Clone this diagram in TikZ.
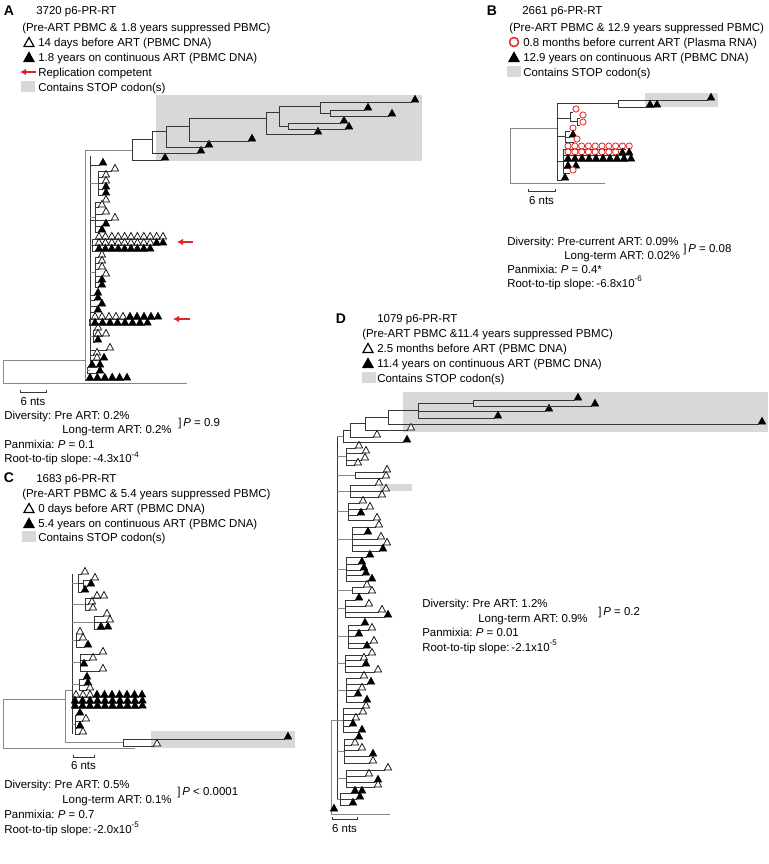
\documentclass[tikz,border=0pt]{standalone}
\usepackage{fontspec}
\setmainfont{Liberation Sans}
\usetikzlibrary{arrows.meta}
\frenchspacing
\definecolor{stopgray}{RGB}{216,216,216}
\definecolor{brdark}{RGB}{55,55,55}
\definecolor{brlight}{RGB}{135,135,135}
\definecolor{compred}{RGB}{226,36,36}
% one sequence: x, y, parent x, fill
\newcommand{\seqtip}[4]{%
  \draw[branch] (#3,#2+3) -- (#1-3,#2+3);
  \draw[tri,fill=#4] (#1-3.6,#2+3) -- (#1,#2-3.6) -- (#1+3.6,#2+3) -- cycle;}
\newcommand{\seqcirc}[3]{%
  \draw[branch] (#3,#2+3) -- (#1-3,#2+3);
  \draw[compred,line width=0.6pt,fill=white] (#1,#2) circle[radius=3.1];}
\begin{document}
\begin{tikzpicture}[x=0.75pt,y=-0.75pt,
  branch/.style={draw=brdark,line width=0.6pt},
  branchl/.style={draw=brlight,line width=0.6pt},
  tri/.style={draw=black,line width=0.5pt},
  legtri/.style={draw=black,line width=0.9pt},
  txt/.style={anchor=base west,inner sep=0pt,font=\fontsize{8.6}{10}\selectfont},
  lbl/.style={anchor=base,inner sep=0pt,font=\fontsize{10.5}{12}\selectfont\bfseries},
  redarrow/.style={draw=compred,line width=1.4pt,-{Latex[length=4.5pt,width=5pt]}}]
\useasboundingbox[fill=white] (0,0) rectangle (768,864);

%%% A
\node[lbl] (labA) at (9,15) {A};
\node[txt] (titleA) at (36,14) {3720 p6-PR-RT};
\node[txt] (subA) at (22,31) {(Pre-ART PBMC \& 1.8 years suppressed PBMC)};
\draw[legtri,fill=white] (24,46.5) -- (29,37.5) -- (34,46.5) -- cycle;
\node[txt] (legA1) at (38,46) {14 days before ART (PBMC DNA)};
\draw[legtri,fill=black] (24,61.5) -- (29,52.5) -- (34,61.5) -- cycle;
\node[txt] (legA2) at (38,61) {1.8 years on continuous ART (PBMC DNA)};
\draw[redarrow] (36,72) -- (20,72);
\node[txt] (legA3) at (38,76) {Replication competent};
\fill[stopgray] (21,81) rectangle (35,92);
\node[txt] (legA4) at (38,91) {Contains STOP codon(s)};

\fill[stopgray] (156,95) rectangle (422,161);
\draw[branchl] (85,360) -- (3,360) -- (3,383) -- (187,383);
\draw[branchl] (85,150) -- (85,380);
\draw[branch] (90,156) -- (90,362);
% clade with stop codons
\draw[branchl] (85,150) -- (132,150);
\draw[branch] (132,160) -- (132,139) -- (152,139);
\draw[branch] (152,131) -- (152,153);
\draw[branch] (152,131) -- (166,131) (166,126) -- (166,147);
\draw[branch] (166,126) -- (189,126) (189,118) -- (189,141);
\draw[branch] (189,118) -- (266,118) (266,112) -- (266,134);
\draw[branch] (266,112) -- (279,112) (279,106) -- (279,126) -- (288,126) (288,123) -- (288,129);
\draw[branch] (279,106) -- (320,106) (320,102) -- (320,113) -- (330,113) (330,110) -- (330,116);
\foreach \x/\y/\p in {165/157/132, 201/150/152, 209/144/166, 252/138/189, 318/131/266,
  344/120/288, 349/126/288, 368/107/330, 392/113/330, 415/99/320}
  {\seqtip{\x}{\y}{\p}{black}}
% small clades off the backbone
\foreach \px/\ya/\yb in {98/171/195, 95/202/232, 92/239/251, 95/257/287, 89/319/325, 93/330/342, 87/367/373}
  {\draw[branch] (\px,\ya) -- (\px,\yb); \draw[branchl] (90,{(\ya+\yb)/2}) -- (\px,{(\ya+\yb)/2});}
\foreach \x/\y/\p/\c in {103/162/90/black, 115/168/98/white, 106/174/98/white, 106/180/98/white,
  106/186/98/black, 106/192/98/black, 106/199/95/white, 102/204/95/white, 106/211/95/white,
  115/217/90/white, 106/223/95/black, 102/229/95/black, 102/254/95/white, 102/260/95/white,
  102/266/95/white, 106/273/95/white, 102/279/95/black, 102/284/95/black, 98/292/90/black,
  98/297/90/black, 102/303/90/black, 98/309/90/black, 98/327/93/white, 98/333/93/white,
  106/333/93/white, 98/339/93/black, 110/347/90/white, 97/352/90/white, 97/357/90/white,
  104/357/90/black, 92/364/87/black, 100/364/87/black, 100/370/87/black}
  {\seqtip{\x}{\y}{\p}{\c}}
\foreach \i in {0,...,10} {\seqtip{99+6.4*\i}{236}{92}{white}}
\foreach \i in {0,...,8} {\seqtip{99+6.4*\i}{242}{92}{white}}
\foreach \x in {156.6,163} {\seqtip{\x}{242}{92}{black}}
\foreach \i in {0,...,8} {\seqtip{99+6.4*\i}{248}{92}{black}}
\foreach \x in {95,102,109,116,123} {\seqtip{\x}{316}{89}{white}}
\foreach \x in {130,137,144,151,158} {\seqtip{\x}{316}{89}{black}}
\foreach \i in {0,...,7} {\seqtip{95+7.5*\i}{322}{89}{black}}
\foreach \i in {0,...,5} {\seqtip{90+7.4*\i}{377}{85}{black}}
\draw[redarrow] (193,242) -- (177,242);
\draw[redarrow] (190,319) -- (173,319);

\draw[branch] (20,390) -- (20,392) -- (46,392) -- (46,390);
\node[txt,anchor=base] (ntsA) at (33,405) {6 nts};
\node[txt] (divA) at (4,419) {Diversity: Pre ART: 0.2\%};
\node[txt] (ltA) at (62,433.5) {Long-term ART: 0.2\%};
\node[txt] (pA) at (178,426.5) {]\,\textit{P} = 0.9};
\node[txt] (panA) at (4,448) {Panmixia: \textit{P} = 0.1};
\node[txt] (rttA) at (4,462.5) {Root-to-tip slope:\,-4.3x10\textsuperscript{-4}};

%%% B
\node[lbl] (labB) at (492,15) {B};
\node[txt] (titleB) at (522,14) {2661 p6-PR-RT};
\node[txt] (subB) at (509,31) {(Pre-ART PBMC \& 12.9 years suppressed PBMC)};
\draw[compred,line width=1.1pt] (514,42) circle[radius=4.5];
\node[txt] (legB1) at (523,46) {0.8 months before current ART (Plasma RNA)};
\draw[legtri,fill=black] (509,61.5) -- (514,52.5) -- (519,61.5) -- cycle;
\node[txt] (legB2) at (523,61) {12.9 years on continuous ART (PBMC DNA)};
\fill[stopgray] (507,66) rectangle (521,77);
\node[txt] (legB3) at (523,76) {Contains STOP codon(s)};

\fill[stopgray] (645,93) rectangle (718,107);
\draw[branchl] (557,128) -- (510,128) -- (510,183) -- (605,183);
\draw[branch] (557,103) -- (557,180);
\draw[branch] (557,103) -- (618,103) (618,100) -- (618,107);
\seqtip{711}{97}{618}{black}
\seqtip{650}{104}{618}{black}
\seqtip{657}{104}{618}{black}
\draw[branch] (557,118) -- (570,118) (570,112) -- (570,121.5) -- (577,121.5) (577,118) -- (577,125);
\draw[branch] (557,136) -- (565,136) (565,131) -- (565,142);
\draw[branch] (557,161) -- (563,161) (563,149) -- (563,173);
\seqcirc{576}{109}{570}
\seqcirc{583}{115}{577}
\seqcirc{583}{122}{577}
\seqcirc{573}{128}{565}
\seqtip{573}{134}{565}{black}
\seqcirc{577}{139}{565}
\foreach \i in {0,...,9} {\seqcirc{568+6.8*\i}{146}{563}}
\foreach \i in {0,...,7} {\seqcirc{568+6.8*\i}{152}{563}}
\foreach \x in {622.4,629.2} {\seqtip{\x}{152}{563}{black}}
\foreach \i in {0,...,9} {\seqtip{568+7*\i}{158}{563}{black}}
\seqtip{568}{165}{563}{black}
\seqtip{576}{165}{563}{black}
\seqcirc{573}{170}{563}
\seqtip{565}{177}{557}{black}

\draw[branch] (528,189) -- (528,191) -- (555,191) -- (555,189);
\node[txt,anchor=base] (ntsB) at (541.5,204) {6 nts};
\node[txt] (divB) at (507,245) {Diversity: Pre-current ART: 0.09\%};
\node[txt] (ltB) at (564,259) {Long-term ART: 0.02\%};
\node[txt] (pB) at (683,252) {]\,\textit{P} = 0.08};
\node[txt] (panB) at (507,273) {Panmixia: \textit{P} = 0.4*};
\node[txt] (rttB) at (507,287) {Root-to-tip slope:\,-6.8x10\textsuperscript{-6}};

%%% C
\node[lbl] (labC) at (9,482) {C};
\node[txt] (titleC) at (36,482) {1683 p6-PR-RT};
\node[txt] (subC) at (22,497) {(Pre-ART PBMC \& 5.4 years suppressed PBMC)};
\draw[legtri,fill=white] (24,512.5) -- (29,503.5) -- (34,512.5) -- cycle;
\node[txt] (legC1) at (38,512) {0 days before ART (PBMC DNA)};
\draw[legtri,fill=black] (24,527.5) -- (29,518.5) -- (34,527.5) -- cycle;
\node[txt] (legC2) at (38,527) {5.4 years on continuous ART (PBMC DNA)};
\fill[stopgray] (22,531) rectangle (36,542);
\node[txt] (legC3) at (38,541) {Contains STOP codon(s)};

\fill[stopgray] (151,731) rectangle (295,748);
\draw[branchl] (65,699) -- (3,699) -- (3,748) -- (135,748);
\draw[branchl] (65,690) -- (65,742) -- (123,742);
\draw[branch] (123,739) -- (123,746);
\seqtip{288}{736}{123}{black}
\seqtip{157}{743}{123}{white}
\draw[branchl] (65,690) -- (72,690);
\draw[branch] (72,574) -- (72,734);
\foreach \px/\ya/\yb in {78/574/592, 85/598/610, 94/616/629, 76/634/647, 80/654/671, 79/679/690, 74/697/708, 75/715/734}
  {\draw[branch] (\px,\ya) -- (\px,\yb); \draw[branchl] (72,{(\ya+\yb)/2}) -- (\px,{(\ya+\yb)/2});}
\draw[branch] (78,583) -- (83,583) (83,580) -- (83,586);
\foreach \x/\y/\p/\c in {85/571/78/white, 95/577/83/white, 91/583/83/black, 85/589/78/black,
  97/595/85/white, 104/595/85/white, 92/601/85/white, 93/607/85/white, 107/613/94/white,
  110/619/94/white, 101/626/94/black, 108/626/94/black, 80/631/76/white, 83/637/76/white,
  88/644/76/black, 103/651/80/white, 93/657/80/white, 84/663/80/black, 103/668/80/white,
  87/676/79/black, 88/682/79/black, 90/687/79/white, 80/712/75/black, 86/718/75/white,
  80/725/75/black, 83/731/75/white}
  {\seqtip{\x}{\y}{\p}{\c}}
\foreach \x in {76,83,90} {\seqtip{\x}{694}{74}{white}}
\foreach \i in {0,...,6} {\seqtip{97+7.5*\i}{694}{74}{black}}
\foreach \i in {0,...,9} {\seqtip{75+7.5*\i}{700}{74}{black}}
\foreach \i in {0,...,9} {\seqtip{75+7.5*\i}{705}{74}{black}}

\draw[branch] (73,755) -- (73,757) -- (94,757) -- (94,755);
\node[txt,anchor=base] (ntsC) at (83.5,769) {6 nts};
\node[txt] (divC) at (4,788) {Diversity: Pre ART: 0.5\%};
\node[txt] (ltC) at (62,803) {Long-term ART: 0.1\%};
\node[txt] (pC) at (177,795.5) {]\,\textit{P} < 0.0001};
\node[txt] (panC) at (4,818) {Panmixia: \textit{P} = 0.7};
\node[txt] (rttC) at (4,833) {Root-to-tip slope:\,-2.0x10\textsuperscript{-5}};

%%% D
\node[lbl] (labD) at (341,323) {D};
\node[txt] (titleD) at (377,322) {1079 p6-PR-RT};
\node[txt] (subD) at (362,337) {(Pre-ART PBMC \&11.4 years suppressed PBMC)};
\draw[legtri,fill=white] (363,352.5) -- (368,343.5) -- (373,352.5) -- cycle;
\node[txt] (legD1) at (377,352) {2.5 months before ART (PBMC DNA)};
\draw[legtri,fill=black] (363,367.5) -- (368,358.5) -- (373,367.5) -- cycle;
\node[txt] (legD2) at (377,367) {11.4 years on continuous ART (PBMC DNA)};
\fill[stopgray] (362,372) rectangle (376,383);
\node[txt] (legD3) at (377,382) {Contains STOP codon(s)};

\fill[stopgray] (403,392) rectangle (768,432);
\fill[stopgray] (380,484) rectangle (412,491);
\draw[branchl] (337,720) -- (331,720) -- (331,814) -- (390,814);
\draw[branch] (337,436) -- (337,800);
% clade with stop codons
\draw[branchl] (337,436) -- (343,436);
\draw[branch] (343,430) -- (343,442);
\draw[branch] (343,430) -- (350,430) (350,423) -- (350,437);
\draw[branch] (350,423) -- (365,423) (365,417) -- (365,430);
\draw[branch] (365,417) -- (388,417) (388,410) -- (388,424);
\draw[branch] (388,410) -- (418,410) (418,403) -- (418,418);
\draw[branch] (418,403) -- (473,403) (473,400) -- (473,406);
\foreach \x/\y/\p/\c in {407/439/343/black, 377/434/350/white, 411/427/365/white, 762/421/388/black,
  549/408/418/black, 498/415/418/black, 578/397/473/black, 595/403/473/black}
  {\seqtip{\x}{\y}{\p}{\c}}
\foreach \px/\ya/\yb in {346/448/465, 355/472/478, 350/485/497, 348/503/520, 352/527/551,
  346/557/581, 352/587/593, 345/600/617, 348/625/648, 345/655/672, 346/678/702,
  343/708/732, 344/739/763, 346/770/787, 340/793/805}
  {\draw[branch] (\px,\ya) -- (\px,\yb); \draw[branchl] (337,{(\ya+\yb)/2}) -- (\px,{(\ya+\yb)/2});}
\foreach \x/\y/\p/\c in {359/445/346/white, 366/450/346/white, 365/457/346/white, 358/462/346/white,
  387/469/355/white, 386/475/355/white, 379/482/350/white, 386/488/350/white, 382/494/350/white,
  363/500/348/white, 370/506/348/white, 361/512/348/black, 377/517/348/white,
  379/524/352/white, 368/531/352/black, 381/536/352/white, 387/542/352/white, 383/548/352/black,
  370/554/346/black, 362/561/346/black, 364/567/346/black, 366/572/346/black, 372/578/346/black,
  367/584/352/white, 372/590/352/white,
  359/597/345/black, 369/603/345/white, 382/609/345/white, 388/614/345/black,
  365/622/348/black, 372/627/348/white, 359/633/348/black, 374/640/348/white, 367/645/348/black,
  372/652/345/white, 364/657/345/white, 366/663/345/black, 378/669/345/white,
  364/675/346/white, 371/681/346/black, 362/687/346/white, 358/693/346/black, 367/699/346/black,
  366/705/343/white, 363/711/343/white, 356/717/343/white, 353/723/343/black, 362/729/343/black,
  359/736/344/black, 355/742/344/white, 362/747/344/white, 373/753/344/black, 373/760/344/white,
  388/767/346/white, 369/773/346/white, 378/779/346/black, 378/784/346/white,
  355/790/340/black, 362/790/340/black, 360/796/340/black, 353/802/340/black, 334/808/331/black}
  {\seqtip{\x}{\y}{\p}{\c}}

\draw[branch] (332,817) -- (332,819) -- (357,819) -- (357,817);
\node[txt,anchor=base] (ntsD) at (344.5,832) {6 nts};
\node[txt] (divD) at (422,607) {Diversity: Pre ART: 1.2\%};
\node[txt] (ltD) at (478,622) {Long-term ART: 0.9\%};
\node[txt] (pD) at (598,615) {]\,\textit{P} = 0.2};
\node[txt] (panD) at (422,636) {Panmixia: \textit{P} = 0.01};
\node[txt] (rttD) at (422,651) {Root-to-tip slope:\,-2.1x10\textsuperscript{-5}};
\end{tikzpicture}
\end{document}
